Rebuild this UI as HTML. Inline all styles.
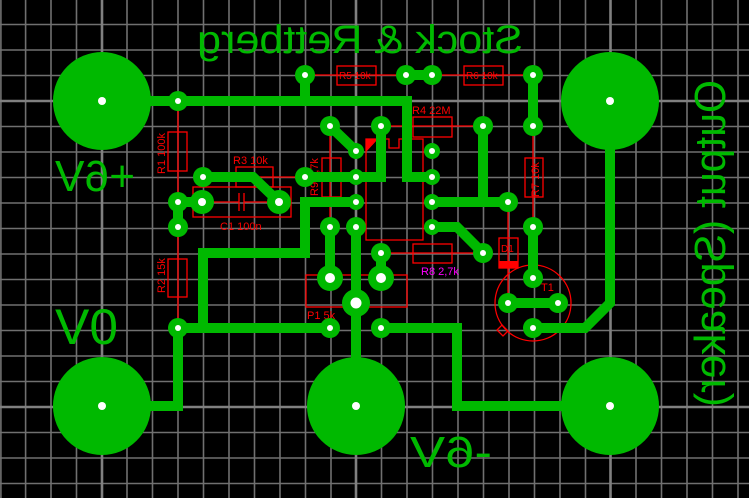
<!DOCTYPE html>
<html><head><meta charset="utf-8"><style>
html,body{margin:0;padding:0;background:#000;}
svg{display:block;}
text{font-family:"Liberation Sans",sans-serif;}
</style></head><body>
<svg width="749" height="498" viewBox="0 0 749 498" xmlns="http://www.w3.org/2000/svg">
<rect width="749" height="498" fill="#000"/>
<g stroke="#707070" stroke-width="1.6">
<line x1="0.9" y1="0" x2="0.9" y2="498"/><line x1="25.6" y1="0" x2="25.6" y2="498"/><line x1="51" y1="0" x2="51" y2="498"/><line x1="76.5" y1="0" x2="76.5" y2="498"/>
<line x1="127" y1="0" x2="127" y2="498"/><line x1="152.5" y1="0" x2="152.5" y2="498"/><line x1="178" y1="0" x2="178" y2="498"/><line x1="203.5" y1="0" x2="203.5" y2="498"/><line x1="229" y1="0" x2="229" y2="498"/><line x1="254.5" y1="0" x2="254.5" y2="498"/><line x1="280" y1="0" x2="280" y2="498"/><line x1="305.5" y1="0" x2="305.5" y2="498"/><line x1="331" y1="0" x2="331" y2="498"/>
<line x1="381.5" y1="0" x2="381.5" y2="498"/><line x1="407" y1="0" x2="407" y2="498"/><line x1="432.5" y1="0" x2="432.5" y2="498"/><line x1="458" y1="0" x2="458" y2="498"/><line x1="483.5" y1="0" x2="483.5" y2="498"/><line x1="509" y1="0" x2="509" y2="498"/><line x1="534.5" y1="0" x2="534.5" y2="498"/><line x1="560" y1="0" x2="560" y2="498"/><line x1="585.5" y1="0" x2="585.5" y2="498"/>
<line x1="636" y1="0" x2="636" y2="498"/><line x1="661.5" y1="0" x2="661.5" y2="498"/><line x1="687" y1="0" x2="687" y2="498"/><line x1="712.5" y1="0" x2="712.5" y2="498"/><line x1="738" y1="0" x2="738" y2="498"/>
<line x1="0" y1="24.5" x2="749" y2="24.5"/><line x1="0" y1="50" x2="749" y2="50"/><line x1="0" y1="75.5" x2="749" y2="75.5"/>
<line x1="0" y1="126.5" x2="749" y2="126.5"/><line x1="0" y1="152" x2="749" y2="152"/><line x1="0" y1="177.5" x2="749" y2="177.5"/><line x1="0" y1="203" x2="749" y2="203"/><line x1="0" y1="228.5" x2="749" y2="228.5"/><line x1="0" y1="254" x2="749" y2="254"/><line x1="0" y1="279.5" x2="749" y2="279.5"/><line x1="0" y1="305" x2="749" y2="305"/><line x1="0" y1="330.5" x2="749" y2="330.5"/><line x1="0" y1="356" x2="749" y2="356"/><line x1="0" y1="381.5" x2="749" y2="381.5"/>
<line x1="0" y1="432.5" x2="749" y2="432.5"/><line x1="0" y1="458" x2="749" y2="458"/><line x1="0" y1="483.5" x2="749" y2="483.5"/>
</g>
<g stroke="#808080" stroke-width="2.6">
<line x1="102" y1="0" x2="102" y2="498"/><line x1="356" y1="0" x2="356" y2="498"/><line x1="610.5" y1="0" x2="610.5" y2="498"/>
<line x1="0" y1="101" x2="749" y2="101"/><line x1="0" y1="407" x2="749" y2="407"/>
</g>

<!-- red silkscreen -->
<g stroke="#f00" stroke-width="1.3" fill="none">
<line x1="178" y1="101" x2="178" y2="328"/>
<rect x="168" y="132" width="19" height="39"/>
<rect x="168" y="259" width="19" height="38"/>
<line x1="203" y1="177" x2="305" y2="177"/>
<rect x="236" y="167" width="37" height="20"/>
<line x1="202" y1="202" x2="239" y2="202"/><line x1="244" y1="202" x2="279" y2="202"/>
<line x1="239" y1="193" x2="239" y2="211"/><line x1="244" y1="193" x2="244" y2="211"/>
<rect x="193" y="187" width="98" height="30"/>
<line x1="305" y1="75" x2="406" y2="75"/><rect x="337" y="66" width="39" height="19"/>
<line x1="432" y1="75" x2="533" y2="75"/><rect x="464" y="66" width="39" height="19"/>
<line x1="381" y1="126" x2="483" y2="126"/><rect x="413" y="117" width="39" height="20"/>
<line x1="330" y1="126" x2="330" y2="228"/><rect x="322" y="158" width="19" height="39"/>
<line x1="381" y1="253" x2="483" y2="253"/><rect x="413" y="244" width="39" height="19"/>
<line x1="533" y1="126" x2="533" y2="227"/><rect x="525" y="158" width="18" height="39"/>
<line x1="508" y1="202" x2="508" y2="303"/><rect x="499" y="238" width="19" height="30"/>
<path d="M366 139 H389 V148 H399 V139 H423 V240 H366 Z"/>
<rect x="306" y="275" width="101" height="32"/>
<line x1="356" y1="263" x2="356" y2="275"/><path d="M352 270 L356 275 L360 270"/>
<circle cx="533" cy="303" r="38"/>
<path d="M502 325 l6 6 l-5 5 l-6 -6 z"/>
</g>
<polygon points="366,139 378,139 366,152" fill="#f00"/>
<rect x="499" y="261" width="19" height="7" fill="#f00"/>

<g fill="#f00" font-size="11">
<text x="412" y="114">R4 22M</text>
<text x="339" y="79" font-size="10">R5 10k</text>
<text x="466" y="79" font-size="10">R6 10k</text>
<text x="233" y="164">R3 10k</text>
<text x="220" y="230">C1 100n</text>
<text x="307" y="319">P1 5k</text>
<text x="501" y="252" font-size="10">D1</text>
<text x="541" y="291">T1</text>
<text transform="translate(165,174) rotate(-90)" font-size="11">R1 100k</text>
<text transform="translate(165,293) rotate(-90)" font-size="11">R2 15k</text>
<text transform="translate(318,196) rotate(-90)" font-size="11">R9 2,7k</text>
<text transform="translate(539,197) rotate(-90)" font-size="11">R7 10k</text>
</g>
<text x="421" y="275" fill="#f0f" font-size="11">R8 2,7k</text>

<!-- copper traces -->
<g stroke="#00b900" stroke-width="10" fill="none" stroke-linejoin="miter">
<polyline points="102,101 407,101 407,177 432,177"/>
<line x1="305" y1="75" x2="305" y2="101"/>
<line x1="178" y1="202" x2="178" y2="227"/>
<line x1="178" y1="202" x2="202" y2="202"/>
<polyline points="203,177 253,177 279,202"/>
<line x1="330" y1="126" x2="356" y2="151"/>
<polyline points="381,126 381,177 305,177"/>
<polyline points="356,202 305,202 305,253 203,253 203,328"/>
<polyline points="102,406 178,406 178,328 330,328"/>
<line x1="330" y1="227" x2="330" y2="278"/>
<line x1="356" y1="227" x2="356" y2="406"/>
<line x1="381" y1="253" x2="381" y2="278"/>
<polyline points="381,328 457,328 457,406 610,406"/>
<line x1="432" y1="202" x2="508" y2="202"/>
<line x1="483" y1="126" x2="483" y2="202"/>
<polyline points="432,227 457,227 483,253"/>
<line x1="406" y1="75" x2="432" y2="75"/>
<line x1="533" y1="75" x2="533" y2="126"/>
<line x1="533" y1="227" x2="533" y2="278"/>
<line x1="508" y1="303" x2="558" y2="303"/>
<polyline points="533,328 585,328 610,303 610,101"/>
</g>

<!-- big pads -->
<g fill="#00b900">
<circle cx="102" cy="101" r="49"/><circle cx="610" cy="101" r="49"/>
<circle cx="102" cy="406" r="49"/><circle cx="356" cy="406" r="49"/><circle cx="610" cy="406" r="49"/>
</g>
<!-- small pads -->
<g fill="#00b900">
<circle cx="178" cy="101" r="10"/><circle cx="305" cy="75" r="10"/><circle cx="406" cy="75" r="10"/><circle cx="432" cy="75" r="10"/><circle cx="533" cy="75" r="10"/><circle cx="533" cy="126" r="10"/>
<circle cx="330" cy="126" r="10"/><circle cx="381" cy="126" r="10"/><circle cx="483" cy="126" r="10"/>
<circle cx="356" cy="151" r="8"/><circle cx="356" cy="177" r="8"/><circle cx="356" cy="202" r="8"/><circle cx="356" cy="227" r="10"/>
<circle cx="432" cy="151" r="8"/><circle cx="432" cy="177" r="8"/><circle cx="432" cy="202" r="8"/><circle cx="432" cy="227" r="8"/>
<circle cx="203" cy="177" r="10"/><circle cx="202" cy="202" r="12"/><circle cx="279" cy="202" r="12"/>
<circle cx="178" cy="202" r="10"/><circle cx="178" cy="227" r="10"/>
<circle cx="305" cy="177" r="10"/><circle cx="330" cy="227" r="10"/>
<circle cx="508" cy="202" r="10"/><circle cx="483" cy="253" r="10"/><circle cx="533" cy="227" r="10"/>
<circle cx="381" cy="253" r="10"/><circle cx="330" cy="278" r="13"/><circle cx="381" cy="278" r="13"/><circle cx="356" cy="303" r="14"/>
<circle cx="533" cy="278" r="10"/><circle cx="508" cy="303" r="10"/><circle cx="558" cy="303" r="10"/><circle cx="533" cy="328" r="10"/>
<circle cx="178" cy="328" r="10"/><circle cx="330" cy="328" r="10"/><circle cx="381" cy="328" r="10"/>
</g>
<g fill="#fff">
<circle cx="102" cy="101" r="4"/><circle cx="610" cy="101" r="4"/><circle cx="102" cy="406" r="4"/><circle cx="356" cy="406" r="4"/><circle cx="610" cy="406" r="4"/>
<circle cx="178" cy="101" r="3"/><circle cx="305" cy="75" r="3"/><circle cx="406" cy="75" r="3"/><circle cx="432" cy="75" r="3"/><circle cx="533" cy="75" r="3"/><circle cx="533" cy="126" r="3"/>
<circle cx="330" cy="126" r="3"/><circle cx="381" cy="126" r="3"/><circle cx="483" cy="126" r="3"/>
<circle cx="356" cy="151" r="3"/><circle cx="356" cy="177" r="3"/><circle cx="356" cy="202" r="3"/><circle cx="356" cy="227" r="3"/>
<circle cx="432" cy="151" r="3"/><circle cx="432" cy="177" r="3"/><circle cx="432" cy="202" r="3"/><circle cx="432" cy="227" r="3"/>
<circle cx="203" cy="177" r="3"/><circle cx="202" cy="202" r="4"/><circle cx="279" cy="202" r="4"/>
<circle cx="178" cy="202" r="3"/><circle cx="178" cy="227" r="3"/>
<circle cx="305" cy="177" r="3"/><circle cx="330" cy="227" r="3"/>
<circle cx="508" cy="202" r="3"/><circle cx="483" cy="253" r="3"/><circle cx="533" cy="227" r="3"/>
<circle cx="381" cy="253" r="3"/><circle cx="330" cy="278" r="5"/><circle cx="381" cy="278" r="5"/><circle cx="356" cy="303" r="5.5"/>
<circle cx="533" cy="278" r="3"/><circle cx="508" cy="303" r="3"/><circle cx="558" cy="303" r="3"/><circle cx="533" cy="328" r="3"/>
<circle cx="178" cy="328" r="3"/><circle cx="330" cy="328" r="3"/><circle cx="381" cy="328" r="3"/>
</g>

<!-- green labels (mirrored) -->
<g fill="#00b900">
<text transform="translate(523,53) scale(-1,1)" font-size="40" textLength="326" lengthAdjust="spacingAndGlyphs">Stock &amp; Rettberg</text>
<text transform="translate(135,191) scale(-1,1)" font-size="44" textLength="80" lengthAdjust="spacingAndGlyphs">+6V</text>
<text transform="translate(118,344) scale(-1,1)" font-size="50" textLength="63" lengthAdjust="spacingAndGlyphs">0V</text>
<text transform="translate(492,467) scale(-1,1)" font-size="44" textLength="82" lengthAdjust="spacingAndGlyphs">-6V</text>
<text transform="translate(725,80) rotate(90) scale(1,-1)" font-size="44" textLength="327" lengthAdjust="spacingAndGlyphs">Output (Speaker)</text>
</g>
</svg>
</body></html>
